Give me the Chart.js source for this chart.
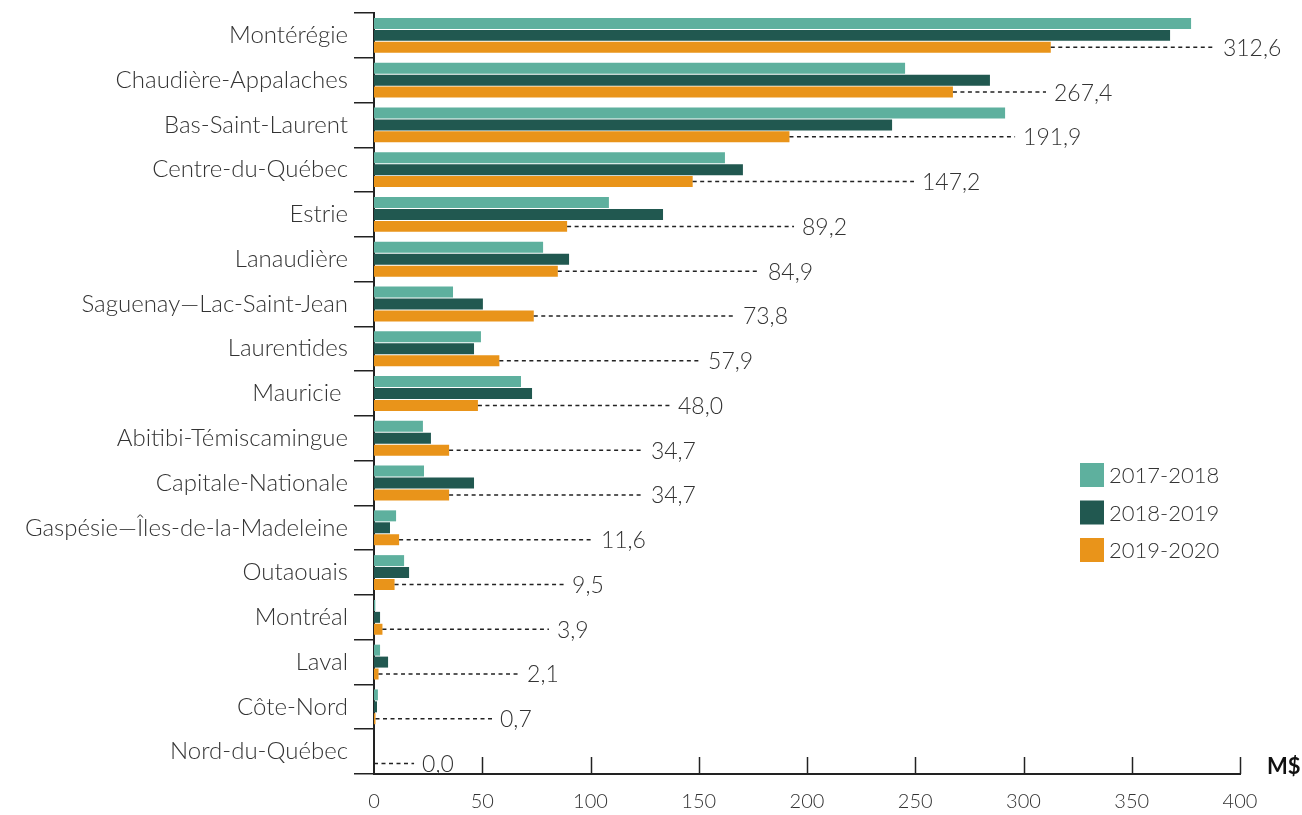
<!DOCTYPE html>
<html lang="fr">
<head>
<meta charset="utf-8">
<title>Montants par région</title>
<script src="https://cdn.jsdelivr.net/npm/chart.js@4/dist/chart.umd.min.js"></script>
<style>
  html, body { margin: 0; padding: 0; background: #fff; }
  #wrap { width: 1302px; height: 815px; position: relative; }
</style>
</head>
<body>
<div id="wrap"><canvas id="chart"></canvas></div>
<script>
const regions = [
  "Montérégie", "Chaudière-Appalaches", "Bas-Saint-Laurent", "Centre-du-Québec",
  "Estrie", "Lanaudière", "Saguenay—Lac-Saint-Jean", "Laurentides", "Mauricie ",
  "Abitibi-Témiscamingue", "Capitale-Nationale", "Gaspésie—Îles-de-la-Madeleine",
  "Outaouais", "Montréal", "Laval", "Côte-Nord", "Nord-du-Québec"
];
const seriesNames = ["2017-2018", "2018-2019", "2019-2020"];
const v2017 = [377.4, 245.3, 291.5, 162.1, 108.5, 78.1, 36.5, 49.4, 67.9, 22.6, 23.1, 10.2, 13.9, 0.6, 2.8, 1.8, 0];
const v2018 = [367.7, 284.5, 239.3, 170.4, 133.5, 90.1, 50.3, 46.2, 73.0, 26.3, 46.2, 7.4, 16.2, 2.8, 6.5, 1.4, 0];
const v2019 = [312.6, 267.4, 191.9, 147.2, 89.2, 84.9, 73.8, 57.9, 48.0, 34.7, 34.7, 11.6, 9.5, 3.9, 2.1, 0.7, 0.0];
const xTicks = [0, 50, 100, 150, 200, 250, 300, 350, 400];

const colors = ["#5eb09e", "#215850", "#e9941a"];
const FONT = "'Source Sans Pro', Lato, 'Open Sans', sans-serif";
const ink = "#333";

// where each 2019-2020 value label starts, in axis units
const labelAt = [392.1, 314.1, 299.8, 253.1, 197.7, 182.0, 170.4, 154.3, 140.4,
  127.9, 127.9, 104.8, 91.5, 84.5, 70.7, 58.2, 22.2];

const fr = v => v.toFixed(1).replace(".", ",");

// dashed leader line from the last bar of each group to its value
const leaders = {
  id: "leaders",
  afterDatasetsDraw(chart) {
    const { ctx, scales: { x } } = chart;
    const meta = chart.getDatasetMeta(2);
    ctx.save();
    ctx.font = "300 23px " + FONT;
    ctx.fillStyle = ink;
    ctx.textBaseline = "middle";
    meta.data.forEach((bar, i) => {
      const v = v2019[i];
      const x0 = x.getPixelForValue(v);
      const tx = x.getPixelForValue(labelAt[i]);
      ctx.strokeStyle = "#222";
      ctx.lineWidth = 1.5;
      ctx.setLineDash([4, 3.5]);
      ctx.beginPath();
      ctx.moveTo(x0, bar.y);
      ctx.lineTo(tx - 8, bar.y);
      ctx.stroke();
      ctx.fillText(fr(v), tx, bar.y + 1);
    });
    ctx.restore();
  }
};

// x ticks drawn upward from the axis, unit label, legend
const extras = {
  id: "extras",
  afterDraw(chart) {
    const { ctx, chartArea: a, scales: { x } } = chart;
    ctx.save();
    ctx.strokeStyle = "#222";
    ctx.lineWidth = 1.5;
    xTicks.slice(1).forEach(t => {
      const px = Math.round(x.getPixelForValue(t)) + 0.5;
      ctx.beginPath();
      ctx.moveTo(px, a.bottom - 17);
      ctx.lineTo(px, a.bottom);
      ctx.stroke();
    });

    ctx.fillStyle = "#111";
    ctx.font = "bold 22px " + FONT;
    ctx.textBaseline = "middle";
    ctx.fillText("M$", a.right + 27, a.bottom - 7);

    ctx.font = "300 22px " + FONT;
    seriesNames.forEach((name, i) => {
      const y = 463 + i * 37.5;
      ctx.fillStyle = colors[i];
      ctx.fillRect(1080, y, 24, 24);
      ctx.fillStyle = ink;
      ctx.fillText(name, 1109, y + 13);
    });
    ctx.restore();
  }
};

new Chart(document.getElementById("chart"), {
  type: "bar",
  data: {
    labels: regions,
    datasets: [v2017, v2018, v2019].map((d, i) => ({
      label: seriesNames[i],
      data: d,
      backgroundColor: colors[i],
      categoryPercentage: 0.8,
      barPercentage: 0.92
    }))
  },
  options: {
    indexAxis: "y",
    responsive: true,
    maintainAspectRatio: false,
    animation: false,
    layout: { padding: { top: 13, right: 62, left: 0, bottom: 0 } },
    plugins: { legend: { display: false }, tooltip: { enabled: false } },
    scales: {
      x: {
        min: 0, max: 400,
        afterBuildTicks: s => { s.ticks = xTicks.map(v => ({ value: v })); },
        afterFit: s => { s.height = 41; s.paddingLeft = 0; s.paddingRight = 0; },
        grid: { display: false, drawTicks: false },
        border: { display: true, color: "#222", width: 2 },
        ticks: { color: ink, padding: 16, font: { family: FONT, size: 20, weight: 300 } }
      },
      y: {
        afterFit: s => { s.width = 374; s.paddingTop = 0; s.paddingBottom = 0; },
        grid: { drawOnChartArea: false, tickLength: 20, color: "#222", lineWidth: 1.5, offset: true },
        border: { display: true, color: "#222", width: 2 },
        ticks: { color: ink, padding: 6, font: { family: FONT, size: 24, weight: 300 } }
      }
    }
  },
  plugins: [leaders, extras]
});
</script>
</body>
</html>
